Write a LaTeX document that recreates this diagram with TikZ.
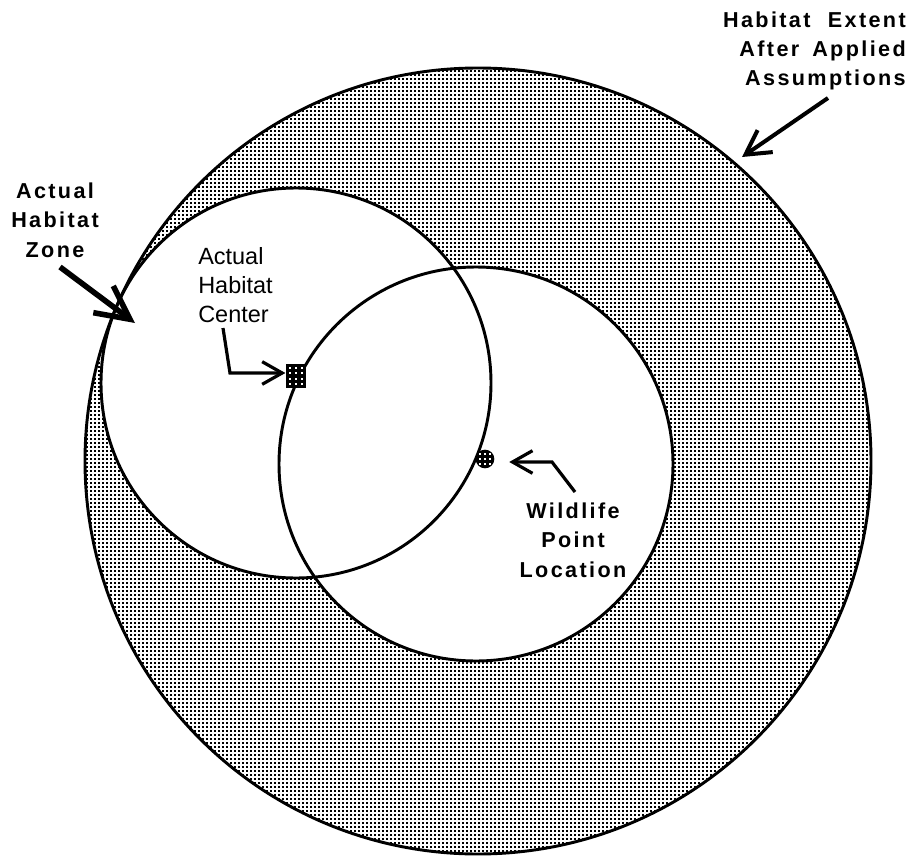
\documentclass[tikz,border=0pt]{standalone}
\usepackage{fontspec}
\setmainfont{Liberation Sans}
\newfontfamily\widefont[LetterSpace=11]{Liberation Sans}
\usetikzlibrary{arrows.meta,patterns}

% halftone screen used for the habitat extent
\pgfdeclarepatternformonly{halftone}{\pgfpointorigin}{\pgfqpoint{3.1pt}{3.1pt}}{\pgfqpoint{3.1pt}{3.1pt}}{%
  \pgfpathrectangle{\pgfpointorigin}{\pgfqpoint{1.8pt}{1.8pt}}\pgfusepath{fill}}

\tikzset{
  outline/.style={line width=2.2pt, black},
  boldlabel/.style={font={\widefont\bfseries\fontsize{16.2}{22}\selectfont}, inner sep=0pt},
  plainlabel/.style={font={\fontsize{17.6}{21.4}\selectfont}, inner sep=0pt},
  pointer/.style={line width=2.4pt, line join=miter, -{Straight Barb[length=15pt,width=17pt]}},
  bigpointer/.style={line width=3pt, -{Straight Barb[length=18pt,width=20pt]}},
  heavypointer/.style={line width=4.2pt, -{Straight Barb[length=25pt,width=25pt]}},
  gridmark/.style={fill=black, inner sep=0pt, draw=none,
    path picture={
      \foreach \i in {-1,0,1}
        \foreach \j in {-1.5,-0.5,0.5,1.5}
          \fill[white] ([shift={(\i*4.6pt-0.8pt,\j*4.2pt-0.8pt)}]path picture bounding box.center) rectangle +(1.6pt,1.6pt);
    }},
  dotmark/.style={circle, fill=black, inner sep=0pt, minimum size=14pt,
    path picture={
      \foreach \i in {-1,0,1}
        \foreach \j in {-1,0,1}
          \fill[white] ([shift={(\i*3.6pt-0.6pt,\j*3.6pt-0.6pt)}]path picture bounding box.center) rectangle +(1.2pt,1.2pt);
    }},
}

\begin{document}
\begin{tikzpicture}[x=0.75pt,y=-0.75pt]
\useasboundingbox[fill=white] (0,0) rectangle (914,856);

% shaded extent, with the two habitat circles left clear
\fill[pattern=halftone, pattern color=black] (478,461) circle[radius=393];
\fill[white] (296,383) circle[radius=195];
\fill[white] (476,464) circle[radius=197];
\draw[outline] (478,461) circle[radius=393];
\draw[outline] (296,383) circle[radius=195];
\draw[outline] (476,464) circle[radius=197];

% point markers
\node[gridmark, minimum width=15.5pt, minimum height=18.5pt] (hc) at (296,376) {};
\node[dotmark] (wp) at (485,459) {};

% labels (anchored on the baseline of their last line)
\node[boldlabel, align=right, anchor=base east] (ext) at (906,86)
  {Habitat\hspace{0.8em}Extent\\After\hspace{0.6em}Applied\\Assumptions};
\node[boldlabel, align=center, anchor=base] (zone) at (55,257)
  {Actual\\Habitat\\Zone};
\node[plainlabel, align=left, anchor=base west] (ctr) at (198,322)
  {Actual\\Habitat\\Center};
\node[boldlabel, align=center, anchor=base] (wl) at (573,577)
  {Wildlife\\Point\\Location};

% connector end points
\coordinate (extTail) at (828,98);
\coordinate (extTip) at (742,157);
\coordinate (zoneTail) at (60,267);
\coordinate (zoneTip) at (135,323);
\coordinate (ctrTail) at (223,328);
\coordinate (ctrBend) at (230,373);
\coordinate (wlTail) at (575,492);
\coordinate (wlBend) at (552,462);

% pointers
\draw[bigpointer] (extTail) -- (extTip);
\draw[heavypointer] (zoneTail) -- (zoneTip);
\draw[pointer] (ctrTail) -- (ctrBend) -- (ctrBend -| hc.west);
\draw[pointer, shorten >=11pt] (wlTail) -- (wlBend) -- (wlBend -| wp.east);
\end{tikzpicture}
\end{document}
